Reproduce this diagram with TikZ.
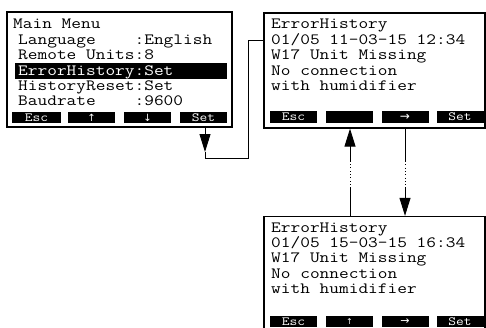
\documentclass[tikz,border=0pt]{standalone}
\usepackage{fontspec}
\setmonofont[FakeStretch=1.2]{Latin Modern Mono}
\newfontfamily\symfont{DejaVu Sans}
\usetikzlibrary{arrows.meta}
\begin{document}
\begin{tikzpicture}[x=1pt,y=-1pt,
  screen/.style={draw=black, line width=1.3pt, inner sep=0pt, minimum width=221pt},
  ln/.style={anchor=base west, inner sep=0pt, font=\fontsize{15.7}{15.7}\selectfont\ttfamily},
  btn/.style={fill=black, inner sep=0pt, text=white, minimum width=47pt, minimum height=12pt,
              font=\fontsize{12.5}{12.5}\selectfont\ttfamily},
  arw/.style={font=\fontsize{10}{10}\selectfont\symfont},
  conn/.style={line width=0.9pt},
  dots/.style={line width=0.9pt, dash pattern=on 0.9pt off 2.4pt},
  tip/.style={-{Triangle[width=11pt,length=18pt]}}
]
\useasboundingbox (0,0) rectangle (486,327);
\clip (0,0) rectangle (486,327);

% screens
\node[screen, minimum width=225pt, minimum height=115pt] (s1) at (119.5,69.5) {};
\node[screen, minimum height=115pt] (s2) at (374.5,70.5) {};
\node[screen, minimum height=115pt] (s3) at (374.5,274) {};

% screen 1 text
\node[fill=black, inner sep=0pt, minimum width=212pt, minimum height=16pt] (hl) at (121,71) {};
\node[ln] (t10) at (13,28.5) {Main Menu};
\node[ln] (t11) at (18,44) {Language~~~~:English};
\node[ln] (t12) at (18,59.5) {Remote Units:8};
\node[ln, text=white] (t13) at (18,75) {ErrorHistory:Set};
\node[ln] (t14) at (18,90) {HistoryReset:Set};
\node[ln] (t15) at (18,105) {Baudrate~~~~:9600};

\node[btn, minimum width=49pt, minimum height=11pt] (b11) at (36.5,117.5) {Esc};
\node[btn, minimum height=11pt, arw] (b12) at (91.5,117.5) {↑};
\node[btn, minimum height=11pt, arw] (b13) at (147.5,117.5) {↓};
\node[btn, minimum height=11pt] (b14) at (203.5,117.5) {Set};

% screen 2 text
\node[ln] (t20) at (271,28.5) {ErrorHistory};
\node[ln] (t21) at (271,44) {01/05 11-03-15 12:34};
\node[ln] (t22) at (271,59.5) {W17 Unit Missing};
\node[ln] (t23) at (271,75) {No connection};
\node[ln] (t24) at (271,90) {with humidifier};

\node[btn] (b21) at (293.5,117) {Esc};
\node[btn] (b22) at (349.5,117) {};
\node[btn, arw, font=\fontsize{12}{12}\selectfont\symfont] (b23) at (405,117) {→};
\node[btn] (b24) at (460,117) {Set};

% screen 3 text
\node[ln] (t30) at (271,232) {ErrorHistory};
\node[ln] (t31) at (271,247.5) {01/05 15-03-15 16:34};
\node[ln] (t32) at (271,262.5) {W17 Unit Missing};
\node[ln] (t33) at (271,278) {No connection};
\node[ln] (t34) at (271,293) {with humidifier};

\node[btn, minimum height=11pt] (b31) at (293.5,321.5) {Esc};
\node[btn, minimum height=11pt, arw, font=\fontsize{8}{8}\selectfont\symfont] (b32) at (349.5,321.5) {↑};
\node[btn, minimum height=11pt, arw, font=\fontsize{11}{11}\selectfont\symfont] (b33) at (405,321.5) {→};
\node[btn, minimum height=11pt] (b34) at (460,321.5) {Set};

% connector screen 1 -> screen 2
\coordinate (m1) at (205,152);
\coordinate (k1) at (205,158);
\coordinate (k2) at (248,158);
\coordinate (k3) at (248,40);
\draw[conn,tip] (s1.south -| m1) -- (m1);
\draw[conn] (m1) -- (k1) -- (k2) -- (k3) -- (k3 -| s2.west);

% up arrow screen 3 -> screen 2
\coordinate (u1) at (350,188);
\coordinate (u2) at (350,161);
\draw[conn] (s3.north -| u1) -- (u1);
\draw[dots] (u1) -- (u2);
\draw[conn,tip] (u2) -- (s2.south -| u2);

% down arrow screen 2 -> screen 3
\coordinate (d1) at (405,161);
\coordinate (d2) at (405,188);
\draw[conn] (s2.south -| d1) -- (d1);
\draw[dots] (d1) -- (d2);
\draw[conn,tip] (d2) -- (s3.north -| d2);
\end{tikzpicture}
\end{document}
